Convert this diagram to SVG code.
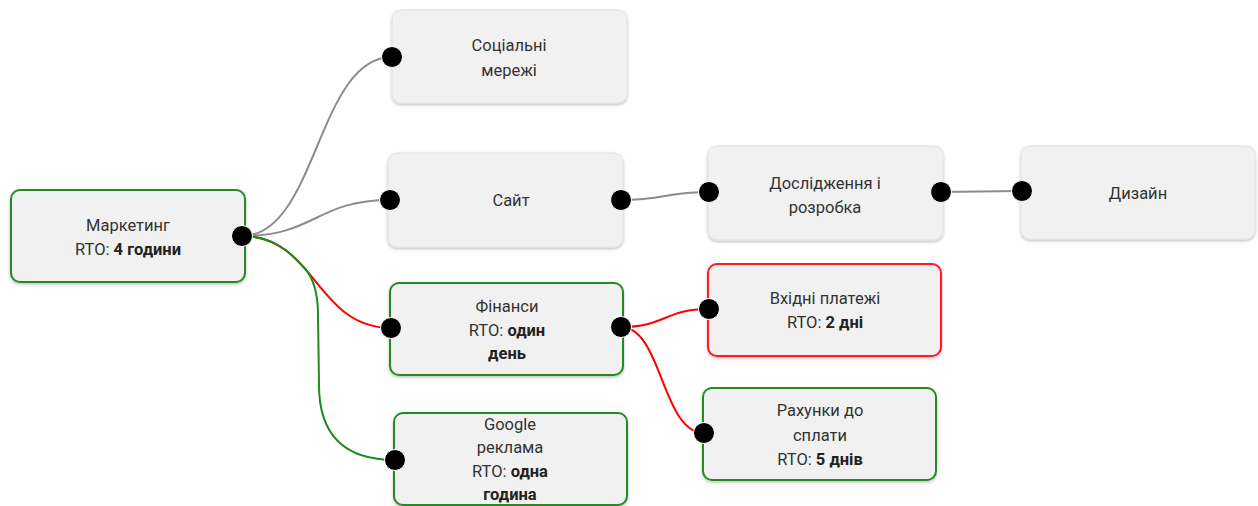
<svg xmlns="http://www.w3.org/2000/svg" width="1258" height="506" viewBox="0 0 1258 506">
<defs>
<filter id="sh" x="-10%" y="-10%" width="120%" height="130%">
<feDropShadow dx="0" dy="1.5" stdDeviation="1.5" flood-color="#000" flood-opacity="0.25"/>
</filter>
</defs>
<style>
.box{fill:#f1f1f1;filter:url(#sh)}
.plain{stroke:#e2e2e2;stroke-width:1}
.green{stroke:#228b22;stroke-width:2}
.red{stroke:#ff1a1a;stroke-width:2}
.dot{fill:#000;stroke:#fff;stroke-width:1}
text{font-family:Roboto,"Liberation Sans",sans-serif;font-size:16.5px;fill:#333;text-anchor:middle}
.b{font-weight:bold;fill:#222}
.c{fill:none;stroke-width:2}
.cg{stroke:#8c8c8c}
.cr{stroke:#ff0000}
.cgr{stroke:#1f8a1f}
</style>
<g id="connectors">
<path class="c cg" d="M242,236 C317,236 317,57 392,57"/>
<path class="c cg" d="M242,236 C316,236 316,200 390,200"/>
<path class="c cr" d="M242,236 C316,236 316,328 391,328"/>
<path class="c cgr" d="M242,236 C271.6,236 289.4,250.7 304.8,268.4 C312.7,277.4 318,292 318,315 L319,385 C319,435 345,460 395,460"/>
<path class="c cg" d="M621,200 C665,200 665,192 709,192"/>
<path class="c cg" d="M941,192 C981,192 981,191 1022,191"/>
<path class="c cr" d="M621,327 C665,327 665,309 709,309"/>
<path class="c cr" d="M621,327 C662,327 662,433 704,433"/>
</g>
<g id="marketing">
<rect class="box green" x="11" y="190" width="234" height="92" rx="9"/>
<text x="128" y="231">Маркетинг</text>
<text x="128" y="255">RTO: <tspan class="b">4 години</tspan></text>
<circle class="dot" cx="242" cy="236" r="10.5"/>
</g>
<g id="social">
<rect class="box plain" x="392" y="10" width="235" height="93" rx="9"/>
<text x="509" y="51">Соціальні</text>
<text x="509" y="76">мережі</text>
<circle class="dot" cx="392" cy="57" r="10.5"/>
</g>
<g id="site">
<rect class="box plain" x="388" y="153" width="235" height="94" rx="9"/>
<text x="511" y="206">Сайт</text>
<circle class="dot" cx="390" cy="200" r="10.5"/>
<circle class="dot" cx="621" cy="200" r="10.5"/>
</g>
<g id="research">
<rect class="box plain" x="708" y="146" width="235" height="94" rx="9"/>
<text x="825" y="189">Дослідження і</text>
<text x="825" y="213">розробка</text>
<circle class="dot" cx="709" cy="192" r="10.5"/>
<circle class="dot" cx="941" cy="192" r="10.5"/>
</g>
<g id="design">
<rect class="box plain" x="1021" y="146" width="234" height="93" rx="9"/>
<text x="1138" y="199">Дизайн</text>
<circle class="dot" cx="1022" cy="191" r="10.5"/>
</g>
<g id="finance">
<rect class="box green" x="390" y="283" width="233" height="92" rx="9"/>
<text x="507" y="312">Фінанси</text>
<text x="507" y="336">RTO: <tspan class="b">один</tspan></text>
<text x="507" y="359" class="b">день</text>
<circle class="dot" cx="391" cy="328" r="10.5"/>
<circle class="dot" cx="621" cy="327" r="10.5"/>
</g>
<g id="incoming">
<rect class="box red" x="708" y="264" width="233" height="92" rx="9"/>
<text x="825" y="304">Вхідні платежі</text>
<text x="825" y="328">RTO: <tspan class="b">2 дні</tspan></text>
<circle class="dot" cx="709" cy="309" r="10.5"/>
</g>
<g id="payables">
<rect class="box green" x="703" y="388" width="233" height="92" rx="9"/>
<text x="820" y="416">Рахунки до</text>
<text x="820" y="441">сплати</text>
<text x="820" y="465">RTO: <tspan class="b">5 днів</tspan></text>
<circle class="dot" cx="704" cy="433" r="10.5"/>
</g>
<g id="google">
<rect class="box green" x="394" y="413" width="233" height="92" rx="9"/>
<text x="510" y="430">Google</text>
<text x="510" y="453">реклама</text>
<text x="510" y="477">RTO: <tspan class="b">одна</tspan></text>
<text x="510" y="500" class="b">година</text>
<circle class="dot" cx="395" cy="460" r="10.5"/>
</g>
</svg>
